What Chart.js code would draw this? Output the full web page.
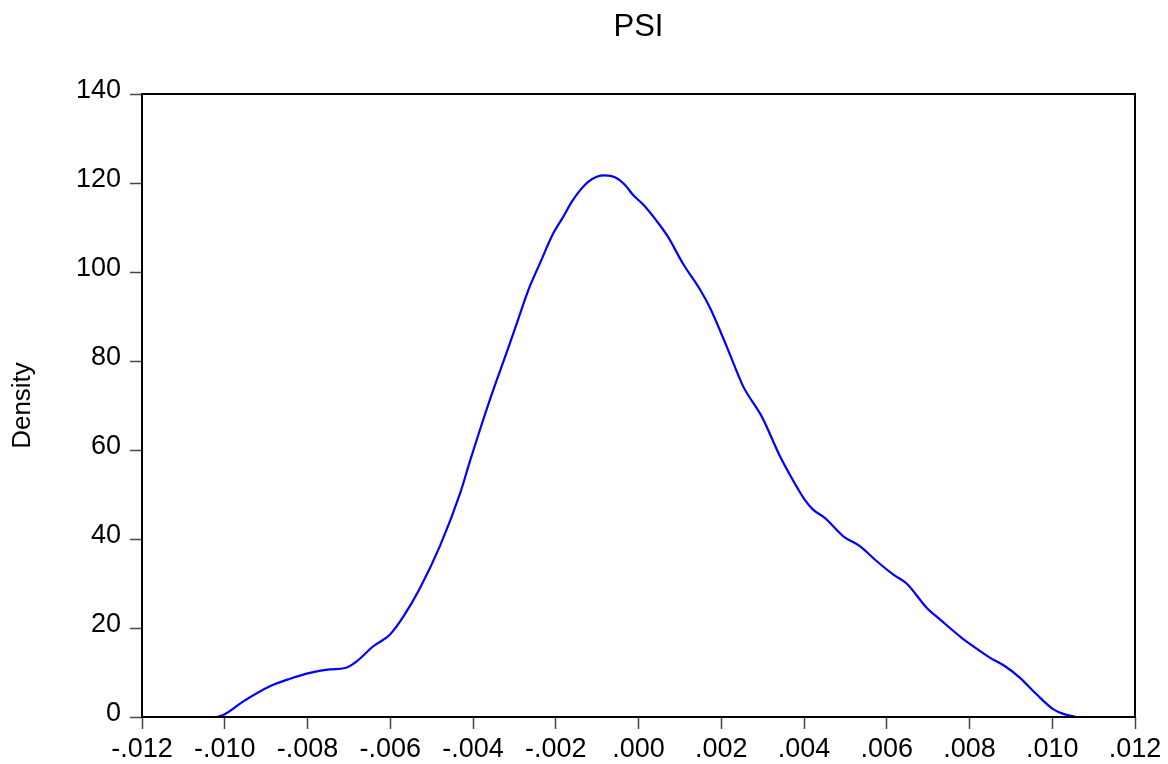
<!DOCTYPE html>
<html>
<head>
<meta charset="utf-8">
<title>PSI</title>
<script src="https://cdn.jsdelivr.net/npm/chart.js@4/dist/chart.umd.min.js"></script>
<style>
  html, body { margin: 0; padding: 0; background: #fff; }
  #wrap { width: 1168px; height: 764px; position: relative; }
</style>
</head>
<body>
<div id="wrap"><canvas id="c" width="1168" height="764"></canvas></div>
<script>
// Kernel density estimate of PSI
const psiX = [
  -0.01020, -0.01000, -0.00955, -0.00891, -0.00842, -0.00794, -0.00746, -0.00709,
  -0.00681, -0.00641, -0.00601, -0.00568, -0.00528, -0.00480, -0.00431, -0.00407,
  -0.00383, -0.00351, -0.00319, -0.00294, -0.00266, -0.00238, -0.00206, -0.00182,
  -0.00161, -0.00141, -0.00121, -0.00101, -0.00081, -0.00057, -0.00033, -0.00013,
   0.00012,  0.00042,  0.00070,  0.00108,  0.00149,  0.00173,  0.00213,  0.00253,
   0.00298,  0.00342,  0.00382,  0.00402,  0.00422,  0.00451,  0.00495,  0.00535,
   0.00576,  0.00616,  0.00648,  0.00697,  0.00729,  0.00781,  0.00809,  0.00850,
   0.00886,  0.00922,  0.00962,  0.01003,  0.01027,  0.01055
];
const psiDensity = [
    0.0,   0.6,   3.5,   6.9,   8.6,   9.9,  10.7,  11.0,
   12.5,  15.9,  18.5,  22.6,  29.0,  38.4,  50.3,  57.6,
   64.6,  73.5,  81.8,  88.5,  96.0, 102.0, 108.7, 112.4,
  115.8, 118.4, 120.3, 121.4, 121.7, 121.3, 119.6, 117.3,
  115.1, 111.7, 108.1, 101.8,  96.0,  91.9,  83.3,  74.3,
   67.5,  58.6,  51.8,  48.8,  46.6,  44.7,  40.6,  38.4,
   35.0,  32.0,  30.0,  24.5,  21.9,  17.8,  15.9,  13.3,
   11.4,   8.8,   5.1,   1.7,   0.7,   0.1
];

const xTickValues = [-0.012, -0.010, -0.008, -0.006, -0.004, -0.002, 0.000, 0.002, 0.004, 0.006, 0.008, 0.010, 0.012];
const xTickLabels = ['-.012', '-.010', '-.008', '-.006', '-.004', '-.002', '.000', '.002', '.004', '.006', '.008', '.010', '.012'];
const yTickValues = [0, 20, 40, 60, 80, 100, 120, 140];

const FONT = '"Liberation Sans", Arial, Helvetica, sans-serif';

// Box around the plot area
const frame = {
  id: 'frame',
  afterDatasetsDraw(chart) {
    const { ctx, chartArea: a } = chart;
    ctx.save();
    ctx.strokeStyle = '#000';
    ctx.lineWidth = 2;
    ctx.strokeRect(a.left, a.top, a.right - a.left, a.bottom - a.top);
    ctx.restore();
  }
};

new Chart(document.getElementById('c'), {
  type: 'line',
  data: {
    datasets: [{
      label: 'PSI',
      data: psiX.map((x, i) => ({ x: x, y: psiDensity[i] })),
      borderColor: '#0000ff',
      borderWidth: 2.2,
      pointRadius: 0,
      fill: false,
      cubicInterpolationMode: 'monotone'
    }]
  },
  options: {
    responsive: false,
    animation: false,
    devicePixelRatio: 1,
    layout: { padding: { left: 0, right: 33, top: 0, bottom: 0 } },
    plugins: {
      legend: { display: false },
      tooltip: { enabled: false },
      title: { display: false }
    },
    scales: {
      // top axis carries only the chart heading, centred over the plot area
      xTop: {
        type: 'linear',
        position: 'top',
        min: -0.012,
        max: 0.012,
        afterFit: s => { s.height = 94; },
        ticks: { display: false },
        grid: { display: false, drawTicks: false },
        border: { display: false },
        title: {
          display: true,
          text: 'PSI',
          color: '#000',
          font: { family: FONT, size: 31, lineHeight: 1.2 },
          padding: { top: 9, bottom: 0 }
        }
      },
      x: {
        type: 'linear',
        position: 'bottom',
        min: -0.012,
        max: 0.012,
        afterBuildTicks: s => { s.ticks = xTickValues.map(v => ({ value: v })); },
        afterFit: s => { s.height = 47; },
        ticks: {
          color: '#000',
          font: { family: FONT, size: 27 },
          padding: 4,
          maxRotation: 0,
          autoSkip: false,
          callback: (v, i) => xTickLabels[i]
        },
        grid: { drawOnChartArea: false, drawTicks: true, tickLength: 12, tickColor: '#444', tickWidth: 1.5 },
        border: { display: false }
      },
      y: {
        type: 'linear',
        min: 0,
        max: 140,
        afterBuildTicks: s => { s.ticks = yTickValues.map(v => ({ value: v })); },
        afterFit: s => { s.width = 142; },
        ticks: {
          color: '#000',
          font: { family: FONT, size: 27 },
          padding: 9,
          labelOffset: -3,
          autoSkip: false
        },
        grid: { drawOnChartArea: false, drawTicks: true, tickLength: 12, tickColor: '#444', tickWidth: 1.5 },
        border: { display: false },
        title: {
          display: true,
          text: 'Density',
          color: '#000',
          font: { family: FONT, size: 26, lineHeight: 1.2 },
          padding: { top: 7, bottom: 0 }
        }
      }
    }
  },
  plugins: [frame]
});
</script>
</body>
</html>
